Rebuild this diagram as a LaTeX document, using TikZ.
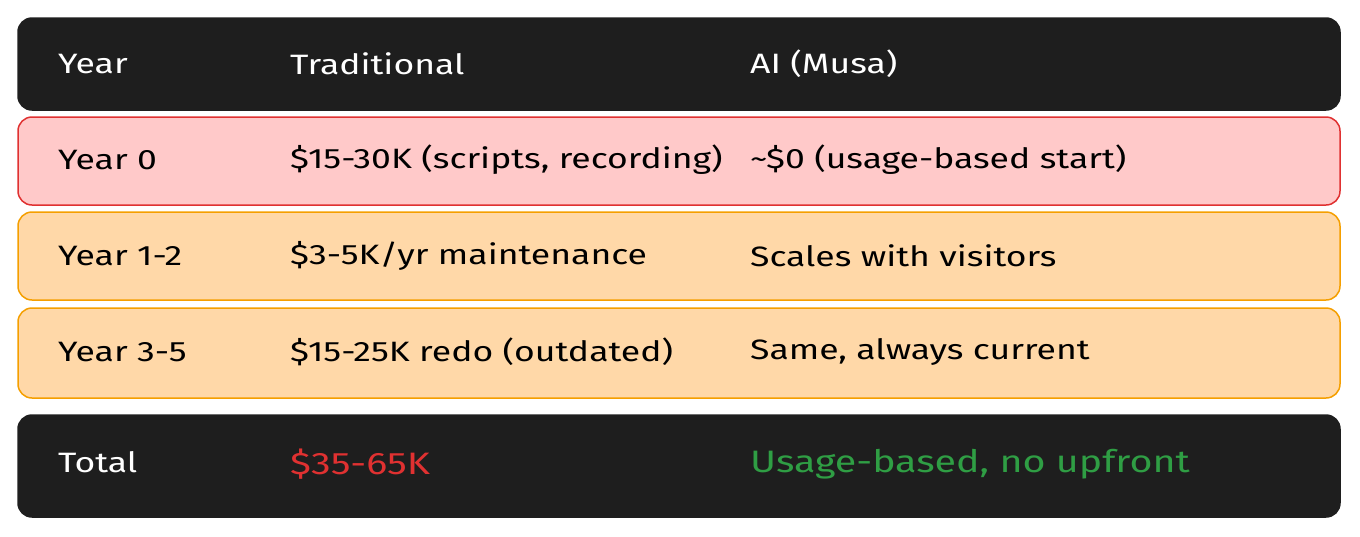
\documentclass[tikz,border=0pt]{standalone}
\usepackage{fontspec}
\setmainfont{Fira Sans}[FakeStretch=1.27]
\definecolor{darkbg}{HTML}{1E1E1E}
\definecolor{pinkfill}{HTML}{FFC9C9}
\definecolor{pinkline}{HTML}{E03131}
\definecolor{orangefill}{HTML}{FFD8A8}
\definecolor{orangeline}{HTML}{F59F00}
\definecolor{greentext}{HTML}{2F9E44}
\begin{document}
\begin{tikzpicture}[
  x=1pt, y=-1pt,
  band/.style={rounded corners=14pt, line width=1.5pt},
  dark/.style={band, fill=darkbg, draw=darkbg},
  pink/.style={band, fill=pinkfill, draw=pinkline},
  orange/.style={band, fill=orangefill, draw=orangeline},
  cell/.style={anchor=west, font=\fontsize{28}{30}\selectfont, inner sep=0pt}
]
  \useasboundingbox (0,0) rectangle (1360,536);
  % rows
  \draw[dark] (18,18) rectangle (1340,110);
  \draw[pink] (18,117) rectangle (1340,205);
  \draw[orange] (18,212) rectangle (1340,300);
  \draw[orange] (18,308) rectangle (1340,398);
  \draw[dark] (18,415) rectangle (1340,517);
  % header
  \node[cell, white] (hyear) at (58,64) {Year};
  \node[cell, white] (htrad) at (290,64) {Traditional};
  \node[cell, white] (hai) at (750,64) {AI (Musa)};
  % year 0
  \node[cell] (y0) at (58,160) {Year 0};
  \node[cell] (y0trad) at (290,160) {\$15-30K (scripts, recording)};
  \node[cell] (y0ai) at (750,160) {\textasciitilde\$0 (usage-based start)};
  % year 1-2
  \node[cell] (y1) at (58,256) {Year 1-2};
  \node[cell] (y1trad) at (290,256) {\$3-5K/yr maintenance};
  \node[cell] (y1ai) at (750,256) {Scales with visitors};
  % year 3-5
  \node[cell] (y3) at (58,352) {Year 3-5};
  \node[cell] (y3trad) at (290,352) {\$15-25K redo (outdated)};
  \node[cell] (y3ai) at (750,352) {Same, always current};
  % total
  \node[cell, white] (tot) at (58,462) {Total};
  \node[cell, pinkline, font=\fontsize{31}{34}\selectfont] (tottrad) at (290,464) {\$35-65K};
  \node[cell, greentext, font=\fontsize{31}{34}\selectfont] (totai) at (750,464) {Usage-based, no upfront};
\end{tikzpicture}
\end{document}
